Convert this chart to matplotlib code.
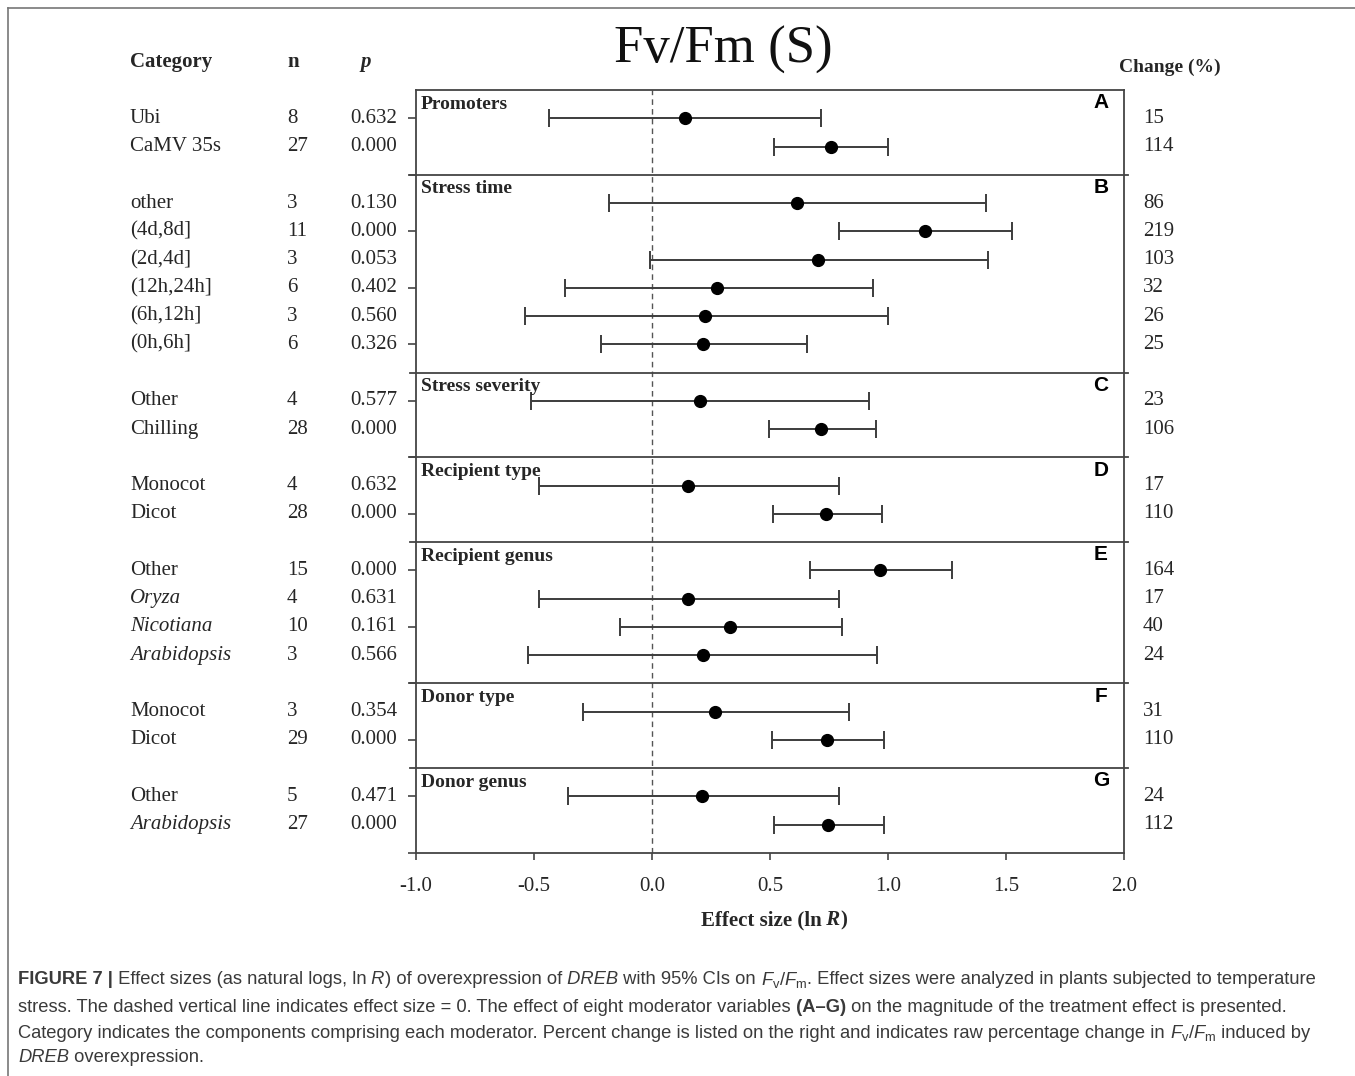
import matplotlib
matplotlib.use("Agg")
import matplotlib.pyplot as plt
from matplotlib import font_manager
from matplotlib.lines import Line2D
from matplotlib.transforms import blended_transform_factory

categories = ["Ubi", "CaMV 35s", "other", "(4d,8d]", "(2d,4d]", "(12h,24h]", "(6h,12h]", "(0h,6h]",
              "Other", "Chilling", "Monocot", "Dicot", "Other", "Oryza", "Nicotiana", "Arabidopsis",
              "Monocot", "Dicot", "Other", "Arabidopsis"]
italic_names = ["Oryza", "Nicotiana", "Arabidopsis"]
n_values = [8, 27, 3, 11, 3, 6, 3, 6, 4, 28, 4, 28, 15, 4, 10, 3, 3, 29, 5, 27]
p_values = ["0.632", "0.000", "0.130", "0.000", "0.053", "0.402", "0.560", "0.326", "0.577", "0.000",
            "0.632", "0.000", "0.000", "0.631", "0.161", "0.566", "0.354", "0.000", "0.471", "0.000"]
effect = [0.138, 0.757, 0.613, 1.158, 0.702, 0.275, 0.225, 0.217, 0.202, 0.717,
          0.154, 0.739, 0.968, 0.152, 0.332, 0.215, 0.266, 0.740, 0.212, 0.746]
ci_low = [-0.435, 0.516, -0.182, 0.794, -0.008, -0.370, -0.540, -0.217, -0.514, 0.496,
          -0.480, 0.512, 0.670, -0.480, -0.134, -0.524, -0.293, 0.507, -0.358, 0.518]
ci_high = [0.717, 1.000, 1.417, 1.526, 1.423, 0.935, 1.000, 0.658, 0.919, 0.949,
           0.794, 0.974, 1.271, 0.794, 0.804, 0.953, 0.836, 0.985, 0.792, 0.985]
change = [15, 114, 86, 219, 103, 32, 26, 25, 23, 106, 17, 110, 164, 17, 40, 24, 31, 110, 24, 112]
groups = ["Promoters", "Stress time", "Stress severity", "Recipient type", "Recipient genus",
          "Donor type", "Donor genus"]
group_sizes = [2, 6, 2, 2, 4, 2, 2]
panel_letters = ["A", "B", "C", "D", "E", "F", "G"]
x_ticks = [-1.0, -0.5, 0.0, 0.5, 1.0, 1.5, 2.0]

plt.rcParams["font.family"] = ["Liberation Serif", "DejaVu Serif"]
installed = {f.name for f in font_manager.fontManager.ttflist}
cap_font = "Liberation Sans Narrow" if "Liberation Sans Narrow" in installed else "Liberation Sans"
plt.rcParams["mathtext.fontset"] = "custom"
plt.rcParams["mathtext.rm"] = cap_font
plt.rcParams["mathtext.it"] = cap_font + ":italic"
plt.rcParams["mathtext.bf"] = cap_font + ":bold"
ink = "#262626"
cap_color = "#3a3a3a"

fig = plt.figure(figsize=(13.55, 10.76), dpi=100)
ax = fig.add_axes([416 / 1355, 1 - 853 / 1076, 708 / 1355, 763 / 1076])

# row positions, one empty row on top of each group for its title
total = sum(s + 1 for s in group_sizes)
rows = []
borders = []
top = total
for size in group_sizes:
    rows += [top - 1 - i for i in range(size)]
    top -= size + 1
    borders.append(top)

xerr = [[e - lo for e, lo in zip(effect, ci_low)], [hi - e for e, hi in zip(effect, ci_high)]]
ax.errorbar(effect, rows, xerr=xerr, fmt="o", color="#3c3c3c", mfc="black", mec="black",
            ms=8.5, elinewidth=1.4, capsize=6.5, capthick=1.4, zorder=3)
ax.axvline(0, color="#555555", lw=1.0, ls=(0, (4, 3)), zorder=1)

ax.set_xlim(-1.0, 2.0)
ax.set_ylim(0, total)
ax.set_xticks(x_ticks)
ax.set_xticklabels(["%.1f" % t for t in x_ticks])
ax.set_yticks(range(0, total, 2))
ax.set_yticklabels([])
ax.tick_params(axis="x", direction="out", length=5, width=1.2, pad=12, labelsize=15,
               colors="#444444", labelcolor=ink)
ax.tick_params(axis="y", direction="out", length=6, width=1.2, colors="#444444")
for sp in ax.spines.values():
    sp.set_color("#444444")
    sp.set_linewidth(1.3)

trans_ax = blended_transform_factory(ax.transAxes, ax.transData)
trans_fig = blended_transform_factory(fig.transFigure, ax.transData)

start = total
for name, letter, b in zip(groups, panel_letters, borders):
    if b > 0:
        ax.plot([-0.009, 1.005], [b, b], color="#444444", lw=1.3, transform=trans_ax, clip_on=False)
    ax.text(0.007, start - 0.5, name, transform=trans_ax, fontsize=14, weight="bold",
            ha="left", va="center", color=ink)
    ax.text(0.9675, start - 0.45, letter, transform=trans_ax, fontsize=15, weight="bold",
            family="Liberation Sans", ha="center", va="center", color="black")
    start = b

for y, cat, n, p, c in zip(rows, categories, n_values, p_values, change):
    style = "italic" if cat in italic_names else "normal"
    ax.text(130 / 1355, y, cat, transform=trans_fig, fontsize=15, style=style,
            ha="left", va="center", color=ink)
    ax.text(287 / 1355, y, str(n), transform=trans_fig, fontsize=15, ha="left", va="center", color=ink)
    ax.text(397 / 1355, y, p, transform=trans_fig, fontsize=15, ha="right", va="center", color=ink)
    ax.text(1143 / 1355, y, str(c), transform=trans_fig, fontsize=15, ha="left", va="center", color=ink)

fig.text(130 / 1355, 1 - 62 / 1076, "Category", fontsize=15, weight="bold", ha="left", va="center", color=ink)
fig.text(287 / 1355, 1 - 62 / 1076, "n", fontsize=15, weight="bold", ha="left", va="center", color=ink)
fig.text(360 / 1355, 1 - 62 / 1076, "p", fontsize=15, weight="bold", style="italic", ha="left",
         va="center", color=ink)
fig.text(1119 / 1355, 1 - 67 / 1076, "Change (%)", fontsize=14, weight="bold", ha="left",
         va="center", color=ink)
fig.text(723 / 1355, 1 - 50 / 1076, "Fv/Fm (S)", fontsize=38, ha="center", va="center", color="#111111")

# outer frame, only top and left edges show
fig.add_artist(Line2D([8 / 1355, 8 / 1355], [0, 1 - 8 / 1076], color="#777777", lw=1.2))
fig.add_artist(Line2D([8 / 1355, 1], [1 - 8 / 1076, 1 - 8 / 1076], color="#777777", lw=1.2))


def draw_runs(x, y, runs, size, family, color):
    renderer = fig.canvas.get_renderer()
    artists = []
    for s, style in runs:
        t = fig.text(x, y, s, fontsize=size, family=family, color=color, ha="left", va="center",
                     weight="bold" if "b" in style else "normal",
                     style="italic" if "i" in style else "normal")
        artists.append(t)
        x += t.get_window_extent(renderer).width / fig.bbox.width
    return artists, x


xlabel_runs = [("Effect size (ln", "b"), (" R", "bi"), (")", "b")]
test, end = draw_runs(0, 0.5, xlabel_runs, 15, "Liberation Serif", ink)
for t in test:
    t.remove()
draw_runs(774 / 1355 - end / 2, 1 - 920 / 1076, xlabel_runs, 15, "Liberation Serif", ink)

fvfm = " $F_{\\mathrm{v}}/F_{\\mathrm{m}}$"
caption = [
    [("FIGURE 7 |", "b"), (" Effect sizes (as natural logs, ln", "n"), (" R", "i"),
     (") of overexpression of", "n"), (" DREB", "i"), (" with 95% CIs on", "n"), (fvfm, "n"),
     (". Effect sizes were analyzed in plants subjected to temperature", "n")],
    [("stress. The dashed vertical line indicates effect size = 0. The effect of eight moderator variables", "n"),
     (" (A\u2013G)", "b"), (" on the magnitude of the treatment effect is presented.", "n")],
    [("Category indicates the components comprising each moderator. Percent change is listed on the right"
      " and indicates raw percentage change in", "n"), (fvfm, "n"), (" induced by", "n")],
    [("DREB", "i"), (" overexpression.", "n")],
]
caption_y = [980, 1007, 1033, 1058]

test, end = draw_runs(18 / 1355, 0.5, caption[0], 12, cap_font, cap_color)
for t in test:
    t.remove()
cap_size = 12 * (1300 / 1355) / (end - 18 / 1355)
for runs, yp in zip(caption, caption_y):
    draw_runs(18 / 1355, 1 - yp / 1076, runs, cap_size, cap_font, cap_color)

fig.savefig("out.png", dpi=100)
